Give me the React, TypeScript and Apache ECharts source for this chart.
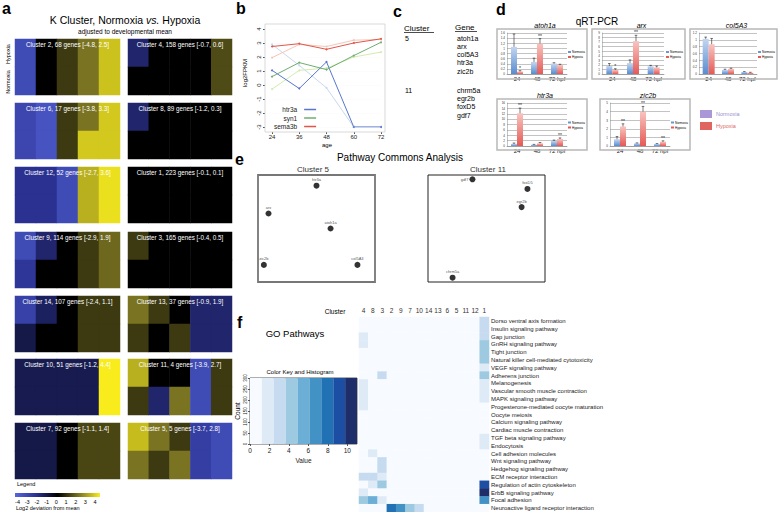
import React, { useEffect, useRef } from 'react';
import * as echarts from 'echarts';

const FONT = 'Liberation Sans, Arial, Helvetica, sans-serif';

// ---------- Panel a: K clusters ----------
const ages = ['24', '36', '48', '60', '72'];
const condRows = ['Normoxia', 'Hypoxia'];
const legendTicks = ['-4', '-3', '-2', '-1', '0', '1', '2', '3', '4'];

const c2Hyp = [-3, 0, 1, 2, 3.3];
const c2Nor = [-3, 0, 1, 2, 3.3];
const c6Hyp = [-2.8, -3.3, 1, 2, 3.4];
const c6Nor = [-2.8, -3.3, 1, 3.4, 3.4];
const c12Hyp = [-2, -2, -3, 3, 3.8];
const c12Nor = [-2, -2, -3, 3, 3.8];
const c9Hyp = [-3, -1.5, 0, 1, 1.8];
const c9Nor = [-2.2, 0, 0, 1, 1.8];
const c14Hyp = [-2.6, -1.3, 0, 1, 1];
const c14Nor = [-1, 0, 0, 1, 1];
const c10Hyp = [-1.1, -1.1, -1.1, -1.1, 4];
const c10Nor = [-1.1, -1.1, -1.1, -1.1, 4];
const c7Hyp = [-1, -1, 0, 1.2, 1.2];
const c7Nor = [-1, -1, 0, 1.2, 1.2];
const c4Hyp = [-1.5, 0, 0, 0, 1.3];
const c4Nor = [0, 0, 0, 0, 1.3];
const c8Hyp = [-1.5, 0, 0, 0, 0];
const c8Nor = [0, 0, 0, 0, 0];
const c1Hyp = [0, 0, 0, 0, 0];
const c1Nor = [0, 0, 0, 0, 0];
const c3Hyp = [1, 0, 0, 0, 0];
const c3Nor = [0, 0, 0, 0, 0];
const c13Hyp = [2, 1, 0, -1.5, -1.5];
const c13Nor = [1, 0, 1, -1.5, -1.5];
const c11Hyp = [3, 0, 0, -3, 1];
const c11Nor = [1, -1.5, 2, -3, 1];
const c5Hyp = [3.2, 2, 1, -2.5, -3];
const c5Nor = [2, 1, 2, -2.5, -3];

const leftPanels = [
  { label: 'Cluster 2, 68 genes [-4.8, 2.5]', hyp: c2Hyp, nor: c2Nor },
  { label: 'Cluster 6, 17 genes [-3.8, 3.3]', hyp: c6Hyp, nor: c6Nor },
  { label: 'Cluster 12, 52 genes [-2.7, 3.6]', hyp: c12Hyp, nor: c12Nor },
  { label: 'Cluster 9, 114 genes [-2.9, 1.9]', hyp: c9Hyp, nor: c9Nor },
  { label: 'Cluster 14, 107 genes [-2.4, 1.1]', hyp: c14Hyp, nor: c14Nor },
  { label: 'Cluster 10, 51 genes [-1.2, 4.4]', hyp: c10Hyp, nor: c10Nor },
  { label: 'Cluster 7, 92 genes [-1.1, 1.4]', hyp: c7Hyp, nor: c7Nor },
];
const rightPanels = [
  { label: 'Cluster 4, 158 genes [-0.7, 0.6]', hyp: c4Hyp, nor: c4Nor },
  { label: 'Cluster 8, 89 genes [-1.2, 0.3]', hyp: c8Hyp, nor: c8Nor },
  { label: 'Cluster 1, 223 genes [-0.1, 0.1]', hyp: c1Hyp, nor: c1Nor },
  { label: 'Cluster 3, 165 genes [-0.4, 0.5]', hyp: c3Hyp, nor: c3Nor },
  { label: 'Cluster 13, 37 genes [-0.9, 1.9]', hyp: c13Hyp, nor: c13Nor },
  { label: 'Cluster 11, 4 genes [-3.9, 2.7]', hyp: c11Hyp, nor: c11Nor },
  { label: 'Cluster 5, 5 genes [-3.7, 2.8]', hyp: c5Hyp, nor: c5Nor },
];
const kColors = ['#5666dc', '#2a3190', '#000000', '#7a7422', '#f8ec1c'];

// ---------- Panel b: expression lines ----------
const bAges = [24, 36, 48, 60, 72];
const htr3aDark = [1.05, -0.25, 1.65, -3, -3];
const htr3aLight = [2.9, 1.4, -0.2, -3, -3];
const syn1Dark = [0.6, 1.6, 1.1, 2.1, 3.05];
const syn1Light = [-0.3, 1.05, 1.2, 2.0, 2.35];
const sema3bDark = [2.75, 2.95, 2.55, 3.0, 3.3];
const sema3bLight = [1.95, 2.9, 2.75, 3.2, 3.25];

// ---------- Panel c ----------
const cluster5Genes = ['atoh1a', 'arx', 'col5A3', 'htr3a', 'zic2b'];
const cluster11Genes = ['chrm5a', 'egr2b', 'foxD5', 'gdf7'];

// ---------- Panel d: qRT-PCR ----------
const qCats = ['24', '48', '72 hpf'];
const atoh1aNor = [1.06, 0.47, 0.41];
const atoh1aHyp = [0.1, 1.19, 0.35];
const atoh1aNorErr = [0.5, 0.15, 0.03];
const atoh1aHypErr = [0.03, 0.19, 0.03];
const atoh1aStars = ['*', '**', ''];
const arxNor = [1.75, 2.4, 1.7];
const arxHyp = [0.9, 7.2, 1.45];
const arxNorErr = [0.55, 0.7, 0.2];
const arxHypErr = [0.25, 1.3, 0.3];
const arxStars = ['*', '**', ''];
const col5a3Nor = [1.03, 0.12, 0.06];
const col5a3Hyp = [0.87, 0.15, 0.04];
const col5a3NorErr = [0.05, 0.02, 0.01];
const col5a3HypErr = [0.17, 0.02, 0.01];
const col5a3Stars = ['', '', ''];
const htr3aNor = [0.8, 0.5, 1.9];
const htr3aHyp = [12.2, 1.0, 2.6];
const htr3aNorErr = [0.3, 0.1, 0.3];
const htr3aHypErr = [1.9, 0.3, 0.4];
const htr3aStars = ['**', '', '**'];
const zic2bNor = [0.78, 0.31, 0.23];
const zic2bHyp = [2.27, 4.0, 0.5];
const zic2bNorErr = [0.32, 0.05, 0.05];
const zic2bHypErr = [0.31, 0.6, 0.1];
const zic2bStars = ['**', '**', '**'];

const qpcr = [
  { name: 'atoh1a', nor: atoh1aNor, hyp: atoh1aHyp, norErr: atoh1aNorErr, hypErr: atoh1aHypErr, stars: atoh1aStars, max: 1.6, interval: 0.2 },
  { name: 'arx', nor: arxNor, hyp: arxHyp, norErr: arxNorErr, hypErr: arxHypErr, stars: arxStars, max: 9, interval: 1 },
  { name: 'col5A3', nor: col5a3Nor, hyp: col5a3Hyp, norErr: col5a3NorErr, hypErr: col5a3HypErr, stars: col5a3Stars, max: 1.2, interval: 0.2 },
  { name: 'htr3a', nor: htr3aNor, hyp: htr3aHyp, norErr: htr3aNorErr, hypErr: htr3aHypErr, stars: htr3aStars, max: 16, interval: 2 },
  { name: 'zic2b', nor: zic2bNor, hyp: zic2bHyp, norErr: zic2bNorErr, hypErr: zic2bHypErr, stars: zic2bStars, max: 5, interval: 1 },
];
// layout: box [x,y,w,h], grid [left, top, width, height]
const qLayout = [
  { box: [497, 29, 90, 50], grid: [507, 33, 60, 41] },
  { box: [592, 29, 93, 50], grid: [602, 33, 62, 41] },
  { box: [690, 29, 87, 50], grid: [699, 33, 58, 41] },
  { box: [497, 99, 90, 51], grid: [507, 103, 60, 43] },
  { box: [600, 99, 90, 51], grid: [610, 103, 60, 43] },
];

// ---------- Panel e: Pathway commons ----------
const pc5 = [
  { name: 'htr3a', value: [0.5, 0.9] },
  { name: 'arx', value: [0.09, 0.64] },
  { name: 'atoh1a', value: [0.62, 0.5] },
  { name: 'zic2b', value: [0.05, 0.16] },
  { name: 'col5A3', value: [0.85, 0.16] },
];
const pc11 = [
  { name: 'gdf7', value: [0.38, 0.96], label: { position: 'left' } },
  { name: 'foxD5', value: [0.85, 0.87] },
  { name: 'egr2b', value: [0.8, 0.7] },
  { name: 'chrm5a', value: [0.21, 0.04] },
];

// ---------- Panel f: GO pathways ----------
const goClusters = ['4', '8', '3', '2', '9', '7', '10', '14', '13', '6', '5', '11', '12', '1'];
const goPathways = [
  'Dorso ventral axis formation', 'Insulin signaling pathway', 'Gap junction', 'GnRH signaling pathway',
  'Tight junction', 'Natural killer cell-mediated cytotoxicity', 'VEGF signaling pathway', 'Adherens junction',
  'Melanogenesis', 'Vascular smooth muscle contraction', 'MAPK signaling pathway',
  'Progesterone-mediated oocyte maturation', 'Oocyte meiosis', 'Calcium signaling pathway',
  'Cardiac muscle contraction', 'TGF beta signaling pathway', 'Endocytosis', 'Cell adhesion molecules',
  'Wnt signaling pathway', 'Hedgehog signaling pathway', 'ECM receptor interaction',
  'Regulation of actin cytoskeleton', 'ErbB signaling pathway', 'Focal adhesion',
  'Neuroactive ligand receptor interaction',
];
const goMatrix = [
  [0, 0, 0, 0, 0, 0, 0, 0, 0, 0, 0, 0, 0, 2.5],
  [0, 0, 0, 0, 0, 0, 0, 0, 0, 0, 0, 0, 0, 2.5],
  [2, 0, 0, 0, 0, 0, 0, 0, 0, 0, 0, 0, 0, 2.5],
  [2, 0, 0, 0, 0, 0, 0, 0, 0, 0, 0, 0, 0, 4],
  [0, 0, 0, 0, 0, 0, 0, 0, 0, 0, 0, 0, 0, 4],
  [0, 0, 0, 0, 0, 0, 0, 0, 0, 0, 0, 0, 0, 4],
  [0, 0, 0, 0, 0, 0, 0, 0, 0, 0, 0, 0, 0, 2],
  [0, 0, 3.2, 0, 0, 0, 0, 0, 0, 0, 0, 0, 0, 4],
  [1.8, 0, 0, 0, 0, 0, 0, 0, 0, 0, 0, 0, 0, 1.8],
  [1.8, 0, 0, 0, 0, 0, 0, 0, 0, 0, 0, 0, 0, 1.8],
  [1.8, 0, 0, 0, 0, 0, 0, 0, 0, 0, 0, 0, 0, 1.8],
  [1.8, 0, 0, 0, 0, 0, 0, 0, 0, 0, 0, 0, 0, 0],
  [0, 0, 0, 0, 0, 0, 0, 0, 0, 0, 0, 0, 0, 0],
  [0, 0, 0, 0, 0, 0, 0, 0, 0, 0, 0, 0, 0, 0],
  [0, 0, 0, 0, 0, 0, 0, 0, 0, 0, 0, 0, 0, 0],
  [0, 0, 0, 0, 0, 0, 0, 0, 0, 0, 0, 0, 0, 1.8],
  [0, 0, 0, 0, 0, 0, 0, 0, 0, 0, 0, 0, 0, 1.8],
  [0, 2, 0, 0, 0, 0, 0, 0, 0, 0, 0, 0, 0, 0],
  [0, 0, 2.5, 0, 0, 0, 0, 0, 0, 0, 0, 0, 0, 0],
  [0, 0, 2.5, 0, 0, 0, 0, 0, 0, 0, 0, 0, 0, 0],
  [3, 3, 1.5, 0, 0, 0, 0, 0, 0, 0, 0, 0, 0, 0],
  [0, 1.5, 4, 0, 0, 0, 0, 0, 0, 0, 0, 0, 0, 9],
  [2, 0, 0, 0, 0, 0, 0, 0, 0, 0, 0, 0, 0, 10.5],
  [4, 5.2, 2, 0, 0, 0, 0, 0, 0, 0, 0, 0, 0, 6.5],
  [0, 0, 0, 8, 6.5, 4.3, 3, 0, 0, 0, 0, 0, 0, 0],
];
const keyEdges = [0, 1.22, 2.44, 3.67, 4.89, 6.11, 7.33, 8.56, 9.78, 11];
const keyColors = ['#f7fbff', '#deebf7', '#c6dbef', '#9ecae1', '#6baed6', '#4292c6', '#2171b5', '#1c4fa3', '#1d2e6b'];
const countTicks = [0, 50, 100, 150, 200, 250, 300];

function txt(text: string, x: number, y: number, size: number, extra: any = {}, styleExtra: any = {}) {
  return {
    type: 'text', x, y, z: 100, ...extra,
    style: { text, fontSize: size, fontFamily: FONT, fill: '#000', align: 'left', verticalAlign: 'middle', ...styleExtra },
  };
}

function buildOption() {
  const grid: any[] = [];
  const xAxis: any[] = [];
  const yAxis: any[] = [];
  const series: any[] = [];
  const graphic: any[] = [];

  // Panel a
  const colX = [15, 128];
  const colW = [105, 104];
  const rowTops = [39, 103, 167, 232, 296, 359, 423];
  const aSeriesIdx: number[] = [];
  [leftPanels, rightPanels].forEach((panels, ci) => {
    panels.forEach((p, ri) => {
      const gi = grid.length;
      grid.push({ left: colX[ci], top: rowTops[ri], width: colW[ci], height: 56 });
      xAxis.push({ type: 'category', gridIndex: gi, data: ages, show: false });
      yAxis.push({ type: 'category', gridIndex: gi, data: condRows, show: false });
      const data: any[] = [];
      ages.forEach((_, i) => {
        data.push([i, 1, p.hyp[i]]);
        data.push([i, 0, p.nor[i]]);
      });
      aSeriesIdx.push(series.length);
      series.push({ type: 'heatmap', xAxisIndex: gi, yAxisIndex: gi, data, itemStyle: { borderWidth: 0 }, emphasis: { disabled: true } });
      graphic.push(txt(p.label, colX[ci] + colW[ci] / 2, rowTops[ri] + 5, 6.3, {}, { fill: '#fff', align: 'center' }));
    });
  });
  graphic.push(txt('a', 2, 8, 16, {}, { fontWeight: 'bold' }));
  graphic.push(txt('K Cluster, Normoxia {i|vs.} Hypoxia', 125, 20, 10.5, {}, {
    align: 'center', rich: { i: { fontStyle: 'italic', fontSize: 10.5, fontFamily: FONT } },
  }));
  graphic.push(txt('adjusted to developmental mean', 125, 31, 6.5, {}, { align: 'center' }));
  graphic.push(txt('Hypoxia', 8, 54, 5.5, { rotation: Math.PI / 2 }, { align: 'center' }));
  graphic.push(txt('Normoxia', 8, 82, 5.5, { rotation: Math.PI / 2 }, { align: 'center' }));
  graphic.push(txt('Legend', 17, 484, 5.5));
  graphic.push({
    type: 'rect', z: 100, shape: { x: 15, y: 493, width: 85, height: 4 },
    style: {
      fill: new echarts.graphic.LinearGradient(0, 0, 1, 0, kColors.map((c, i) => ({ offset: i / (kColors.length - 1), color: c }))),
    },
  });
  legendTicks.forEach((t, i) => graphic.push(txt(t, 17.5 + i * 9.7, 502, 5.5, {}, { align: 'center' })));
  graphic.push(txt('Log2 deviation from mean', 16, 508, 5.5));

  // Panel b
  const bg = grid.length;
  grid.push({ left: 272, top: 29, width: 109, height: 98 });
  xAxis.push({
    type: 'value', gridIndex: bg, min: 24, max: 72, interval: 12, offset: 5,
    axisLine: { show: false, onZero: false }, axisTick: { show: true, length: 2, lineStyle: { color: '#555' } },
    axisLabel: { fontSize: 6, margin: 2, color: '#222', fontFamily: FONT }, splitLine: { show: false },
  });
  yAxis.push({
    type: 'value', gridIndex: bg, min: -3, max: 4, interval: 1, offset: 7,
    axisLine: { show: false, onZero: false }, axisTick: { show: true, length: 2, lineStyle: { color: '#555' } },
    axisLabel: { fontSize: 6, margin: 3, rotate: 90, color: '#222', fontFamily: FONT },
    splitLine: { show: true, lineStyle: { color: '#f2f2f2', type: 'dotted', width: 0.5 } },
  });
  const lineDefs = [
    { name: 'htr3a (light)', data: htr3aLight, color: '#c9d7f0' },
    { name: 'syn1 (light)', data: syn1Light, color: '#d3ecae' },
    { name: 'sema3b (light)', data: sema3bLight, color: '#f5c6b8' },
    { name: 'htr3a', data: htr3aDark, color: '#5877cc' },
    { name: 'syn1', data: syn1Dark, color: '#6fae74' },
    { name: 'sema3b', data: sema3bDark, color: '#e0574a' },
  ];
  lineDefs.forEach((l) => {
    series.push({
      type: 'line', name: l.name, xAxisIndex: bg, yAxisIndex: bg,
      data: bAges.map((a, i) => [a, l.data[i]]),
      symbol: 'circle', symbolSize: 2, showSymbol: true,
      lineStyle: { color: l.color, width: 1 }, itemStyle: { color: l.color },
    });
  });
  graphic.push({ type: 'rect', z: 100, shape: { x: 265, y: 24, width: 120, height: 108 }, style: { fill: 'none', stroke: '#cfcfcf', lineWidth: 0.8 } });
  graphic.push(txt('b', 236, 8, 16, {}, { fontWeight: 'bold' }));
  graphic.push(txt('log2FPKM', 245, 73, 6, { rotation: Math.PI / 2 }, { align: 'center' }));
  graphic.push(txt('age', 327, 145, 6, {}, { align: 'center' }));

  // Panel c
  graphic.push(txt('c', 393, 11, 16, {}, { fontWeight: 'bold' }));
  graphic.push(txt('Cluster', 404, 28, 8));
  graphic.push({ type: 'line', z: 100, shape: { x1: 404, y1: 32.5, x2: 434, y2: 32.5 }, style: { stroke: '#000', lineWidth: 0.7 } });
  graphic.push(txt('Gene', 455, 27, 8));
  graphic.push({ type: 'line', z: 100, shape: { x1: 455, y1: 31.5, x2: 477, y2: 31.5 }, style: { stroke: '#000', lineWidth: 0.7 } });
  graphic.push(txt('5', 405, 38, 7));
  graphic.push(txt('11', 405, 90, 7));
  cluster5Genes.forEach((g, i) => graphic.push(txt(g, 457, 38 + i * 8.3, 7)));
  cluster11Genes.forEach((g, i) => graphic.push(txt(g, 457, 90 + i * 8.4, 7)));

  // Panel d
  graphic.push(txt('d', 496, 9, 16, {}, { fontWeight: 'bold' }));
  graphic.push(txt('qRT-PCR', 597, 21, 10, {}, { align: 'center' }));
  const norGrad = new echarts.graphic.LinearGradient(0, 0, 0, 1, [{ offset: 0, color: '#c3d6f0' }, { offset: 1, color: '#5a8ccf' }]);
  const hypGrad = new echarts.graphic.LinearGradient(0, 0, 0, 1, [{ offset: 0, color: '#f9c4bf' }, { offset: 1, color: '#e45a57' }]);
  qpcr.forEach((q, k) => {
    const L = qLayout[k];
    const gi = grid.length;
    grid.push({ left: L.grid[0], top: L.grid[1], width: L.grid[2], height: L.grid[3] });
    xAxis.push({
      type: 'category', gridIndex: gi, data: qCats,
      axisLine: { show: true, lineStyle: { color: '#888', width: 0.6 } }, axisTick: { show: false },
      axisLabel: { fontSize: 6, margin: 2, color: '#222', fontFamily: FONT, interval: 0 },
    });
    yAxis.push({
      type: 'value', gridIndex: gi, min: 0, max: q.max, interval: q.interval,
      axisLine: { show: true, lineStyle: { color: '#888', width: 0.5 } }, axisTick: { show: false },
      axisLabel: { fontSize: 3, margin: 2, color: '#333', fontFamily: FONT },
      splitLine: { show: true, lineStyle: { color: '#9a9a9a', width: 0.6 } },
    });
    series.push({ type: 'bar', name: 'Normoxia', xAxisIndex: gi, yAxisIndex: gi, data: q.nor, barWidth: 6, barGap: '0%', itemStyle: { color: norGrad } });
    series.push({ type: 'bar', name: 'Hypoxia', xAxisIndex: gi, yAxisIndex: gi, data: q.hyp, barWidth: 6, barGap: '0%', itemStyle: { color: hypGrad } });
    const errData: any[] = [];
    q.nor.forEach((v, i) => errData.push([i, v, q.norErr[i], -1]));
    q.hyp.forEach((v, i) => errData.push([i, v, q.hypErr[i], 1]));
    const stars = ['', '', '', ...q.stars];
    series.push({
      type: 'custom', xAxisIndex: gi, yAxisIndex: gi, data: errData, z: 5,
      renderItem: (params: any, api: any) => {
        const cat = api.value(0);
        const val = api.value(1);
        const err = api.value(2);
        const side = api.value(3);
        const base = api.coord([cat, val]);
        const top = api.coord([cat, val + err]);
        const x = base[0] + side * 3;
        const children: any[] = [
          { type: 'line', shape: { x1: x, y1: base[1], x2: x, y2: top[1] }, style: { stroke: '#222', lineWidth: 0.6 } },
          { type: 'line', shape: { x1: x - 1.3, y1: top[1], x2: x + 1.3, y2: top[1] }, style: { stroke: '#222', lineWidth: 0.6 } },
        ];
        const s = stars[params.dataIndex];
        if (s) {
          children.push({ type: 'text', x, y: top[1] - 0.5, style: { text: s, fontSize: 5, fontFamily: FONT, fill: '#222', align: 'center', verticalAlign: 'bottom' } });
        }
        return { type: 'group', children };
      },
    });
    const [bx, by, bw, bh] = L.box;
    graphic.push({ type: 'rect', z: 100, shape: { x: bx, y: by, width: bw, height: bh }, style: { fill: 'none', stroke: '#b8b8b8', lineWidth: 1.5 } });
    graphic.push(txt(q.name, bx + bw / 2 + 3, by - 4, 7, {}, { align: 'center', fontStyle: 'italic' }));
    const lx = bx + bw - 19;
    const ly = by + bh / 2;
    graphic.push({ type: 'rect', z: 100, shape: { x: lx, y: ly - 3, width: 3, height: 2 }, style: { fill: '#6b96d2' } });
    graphic.push({ type: 'rect', z: 100, shape: { x: lx, y: ly + 2, width: 3, height: 2 }, style: { fill: '#e45a57' } });
    graphic.push(txt('Normoxia', lx + 4, ly - 2, 3));
    graphic.push(txt('Hypoxia', lx + 4, ly + 3, 3));
  });
  graphic.push({ type: 'rect', z: 100, shape: { x: 700, y: 110, width: 12, height: 8 }, style: { fill: '#a997d8' } });
  graphic.push(txt('Normoxia', 716, 114, 5.5, {}, { fill: '#9c8fd0' }));
  graphic.push({ type: 'rect', z: 100, shape: { x: 700, y: 122, width: 12, height: 8 }, style: { fill: '#e06560' } });
  graphic.push(txt('Hypoxia', 716, 126, 5.5, {}, { fill: '#e06a66' }));

  // Panel e
  graphic.push(txt('e', 235, 159, 16, {}, { fontWeight: 'bold' }));
  graphic.push(txt('Pathway Commons Analysis', 400, 157, 10, {}, { align: 'center' }));
  graphic.push(txt('Cluster 5', 313, 169, 8, {}, { align: 'center', fill: '#333' }));
  graphic.push(txt('Cluster 11', 488, 169, 8, {}, { align: 'center', fill: '#333' }));
  [[258, pc5, '#777', 1.8], [428, pc11, '#222', 1]].forEach(([left, pts, bc, bw]: any) => {
    const gi = grid.length;
    grid.push({ left, top: 175, width: 117, height: 107, show: true, borderColor: bc, borderWidth: bw, backgroundColor: 'transparent' });
    xAxis.push({ type: 'value', gridIndex: gi, min: 0, max: 1, show: false });
    yAxis.push({ type: 'value', gridIndex: gi, min: 0, max: 1, show: false });
    series.push({
      type: 'scatter', xAxisIndex: gi, yAxisIndex: gi, data: pts, symbolSize: 6,
      itemStyle: { color: '#000' },
      label: { show: true, position: 'top', distance: 1, formatter: '{b}', fontSize: 4, fontFamily: FONT, color: '#222' },
    });
  });

  // Panel f: color key
  graphic.push(txt('f', 237, 322, 16, {}, { fontWeight: 'bold' }));
  graphic.push(txt('GO Pathways', 295, 333, 9.5, {}, { align: 'center' }));
  graphic.push(txt('Cluster', 335, 311, 6.5, {}, { align: 'center' }));
  graphic.push(txt('Color Key and Histogram', 300, 372, 6, {}, { align: 'center' }));
  graphic.push(txt('Count', 237, 411, 6.5, { rotation: Math.PI / 2 }, { align: 'center' }));
  const kg = grid.length;
  grid.push({ left: 250, top: 378, width: 107, height: 66, show: true, borderColor: '#333', borderWidth: 0.8, backgroundColor: 'transparent' });
  xAxis.push({
    type: 'value', gridIndex: kg, min: 0, max: 11, interval: 2, name: 'Value', nameLocation: 'middle', nameGap: 13,
    nameTextStyle: { fontSize: 6.5, fontFamily: FONT, color: '#222' },
    axisLine: { show: false }, axisTick: { show: true, length: 2 }, splitLine: { show: false },
    axisLabel: { fontSize: 6.5, margin: 3, color: '#222', fontFamily: FONT, showMaxLabel: false },
  });
  yAxis.push({
    type: 'value', gridIndex: kg, min: 0, max: 300, interval: 50,
    axisLine: { show: false }, axisTick: { show: true, length: 2 }, splitLine: { show: false },
    axisLabel: { fontSize: 4.5, margin: 2, rotate: 90, color: '#222', fontFamily: FONT, customValues: countTicks },
  });
  series.push({
    type: 'custom', xAxisIndex: kg, yAxisIndex: kg,
    data: keyColors.map((_, i) => [keyEdges[i], keyEdges[i + 1], i]),
    renderItem: (params: any, api: any) => {
      const p1 = api.coord([api.value(0), 300]);
      const p2 = api.coord([api.value(1), 0]);
      return { type: 'rect', shape: { x: p1[0], y: p1[1], width: p2[0] - p1[0], height: p2[1] - p1[1] }, style: { fill: keyColors[api.value(2)] } };
    },
  });

  // Panel f: GO heatmap
  const hg = grid.length;
  grid.push({ left: 359, top: 317, width: 130, height: 195 });
  xAxis.push({
    type: 'category', gridIndex: hg, data: goClusters, position: 'top',
    axisLine: { show: false }, axisTick: { show: false },
    axisLabel: { fontSize: 6.5, margin: 3, color: '#333', fontFamily: FONT, interval: 0 },
  });
  yAxis.push({
    type: 'category', gridIndex: hg, data: goPathways, position: 'right', inverse: true,
    axisLine: { show: false }, axisTick: { show: false },
    axisLabel: { fontSize: 6, margin: 2, color: '#222', fontFamily: FONT, interval: 0 },
  });
  const goData: any[] = [];
  goMatrix.forEach((row, r) => row.forEach((v, c) => goData.push([c, r, v])));
  const goIdx = series.length;
  series.push({ type: 'heatmap', xAxisIndex: hg, yAxisIndex: hg, data: goData, itemStyle: { borderWidth: 0 }, emphasis: { disabled: true } });

  return {
    animation: false,
    backgroundColor: '#fff',
    textStyle: { fontFamily: FONT },
    grid, xAxis, yAxis, series,
    legend: {
      data: ['htr3a', 'syn1', 'sema3b'], orient: 'vertical', left: 269, top: 101, align: 'right',
      icon: 'rect', itemWidth: 12, itemHeight: 1.5, itemGap: 1.5,
      textStyle: { fontSize: 6.5, fontFamily: FONT, color: '#222', padding: [0, 2, 0, 0] },
    },
    visualMap: [
      {
        type: 'continuous', show: false, seriesIndex: aSeriesIdx, dimension: 2, min: -4, max: 4,
        inRange: { color: kColors },
      },
      {
        type: 'piecewise', show: false, seriesIndex: [goIdx], dimension: 2,
        pieces: keyColors.map((c, i) => ({ gte: keyEdges[i], lt: i === keyColors.length - 1 ? 100 : keyEdges[i + 1], color: c })),
      },
    ],
    graphic: { elements: graphic },
  };
}

export default function App() {
  const ref = useRef<HTMLDivElement>(null);
  useEffect(() => {
    document.body.style.margin = '0';
    const chart = echarts.init(ref.current as HTMLDivElement, null, { renderer: 'svg' });
    chart.setOption(buildOption() as any);
    return () => chart.dispose();
  }, []);
  return <div ref={ref} style={{ position: 'absolute', left: 0, top: 0, width: 778, height: 512 }} />;
}
